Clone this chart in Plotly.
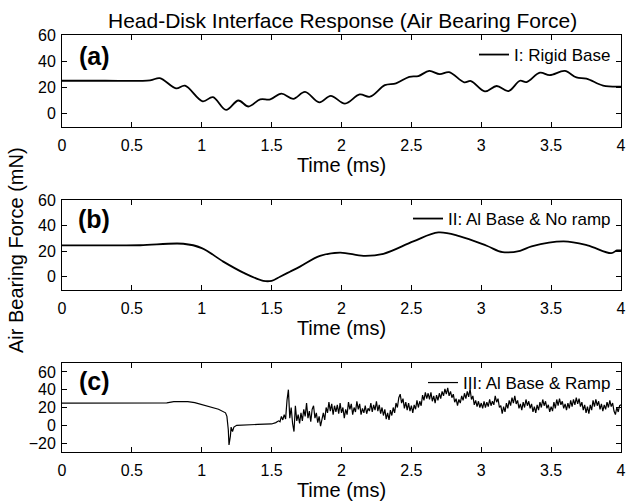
import plotly.graph_objects as go

# ---------------- data ----------------
t_a = [0, 0.3, 0.63, 0.70, 0.816, 0.88, 1.007, 1.08, 1.174, 1.262, 1.334, 1.418, 1.49, 1.57,
       1.655, 1.739, 1.841, 1.923, 2.025, 2.13, 2.204, 2.31, 2.39, 2.485, 2.55, 2.628, 2.703,
       2.77, 2.878, 2.926, 3.026, 3.11, 3.194, 3.277, 3.324, 3.42, 3.49, 3.598, 3.681, 3.753,
       3.872, 4.0]
v_a = [25.0, 25.0, 25.3, 27.0, 19.2, 21.3, 9.3, 12.5, 2.7, 9.9, 5.3, 10.7, 10.7, 15.2,
       11.2, 16.5, 8.5, 13.5, 7.5, 14.5, 12.8, 21.6, 23.0, 28.0, 28.6, 32.5, 30.0,
       31.6, 23.8, 24.8, 16.9, 21.0, 17.1, 25.0, 24.0, 31.2, 29.3, 32.5, 27.5, 26.7,
       21.3, 20.5]

t_b = [0, 0.3, 0.56, 0.868, 1.0, 1.154, 1.297, 1.44, 1.5, 1.56, 1.631, 1.703, 1.846, 1.99,
       2.157, 2.3, 2.514, 2.693, 2.848, 3.039, 3.153, 3.278, 3.36, 3.59, 3.76, 3.93, 3.97, 4.0]
v_b = [24.5, 24.5, 24.6, 25.8, 22.4, 11.8, 3.2, -3.2, -3.2, 0.0, 3.9, 7.9, 16.3, 18.9,
       16.3, 17.9, 27.6, 34.7, 31.6, 24.2, 19.2, 20.3, 23.7, 27.6, 24.5, 18.4, 20.5, 20.5]

t_c = [0, 0.5, 0.55, 0.75, 0.8, 0.9, 0.95, 1.0, 1.06, 1.12, 1.17, 1.18, 1.19, 1.195, 1.205,
       1.21, 1.22, 1.23, 1.25, 1.3, 1.4, 1.5, 1.53, 1.55,
       1.56, 1.57, 1.58, 1.59,
       1.60, 1.61, 1.62, 1.63, 1.64, 1.65, 1.66, 1.67, 1.68, 1.69,
       1.70, 1.71, 1.72, 1.73, 1.74, 1.75, 1.76, 1.77, 1.78, 1.79,
       1.80, 1.81, 1.82, 1.83, 1.84, 1.85, 1.86, 1.87, 1.88, 1.89,
       1.90, 1.91, 1.92, 1.93, 1.94, 1.95, 1.96, 1.97, 1.98, 1.99,
       2.00, 2.01, 2.02, 2.03, 2.04, 2.05, 2.06, 2.07, 2.08, 2.09,
       2.10, 2.11, 2.12, 2.13, 2.14, 2.15, 2.16, 2.17, 2.18, 2.19,
       2.20, 2.21, 2.22, 2.23, 2.24, 2.25, 2.26, 2.27, 2.28, 2.29,
       2.30, 2.31, 2.32, 2.33, 2.34, 2.35, 2.36, 2.37, 2.38, 2.39,
       2.40, 2.41, 2.42, 2.43, 2.44, 2.45, 2.46, 2.47, 2.48, 2.49,
       2.50, 2.51, 2.52, 2.53, 2.54, 2.55, 2.56, 2.57, 2.58, 2.59,
       2.60, 2.61, 2.62, 2.63, 2.64, 2.65, 2.66, 2.67, 2.68, 2.69,
       2.70, 2.71, 2.72, 2.73, 2.74, 2.75, 2.76, 2.77, 2.78, 2.79,
       2.80, 2.81, 2.82, 2.83, 2.84, 2.85, 2.86, 2.87, 2.88, 2.89,
       2.90, 2.91, 2.92, 2.93, 2.94, 2.95, 2.96, 2.97, 2.98, 2.99,
       3.00, 3.01, 3.02, 3.03, 3.04, 3.05, 3.06, 3.07, 3.08, 3.09,
       3.10, 3.11, 3.12, 3.13, 3.14, 3.15, 3.16, 3.17, 3.18, 3.19,
       3.20, 3.21, 3.22, 3.23, 3.24, 3.25, 3.26, 3.27, 3.28, 3.29,
       3.30, 3.31, 3.32, 3.33, 3.34, 3.35, 3.36, 3.37, 3.38, 3.39,
       3.40, 3.41, 3.42, 3.43, 3.44, 3.45, 3.46, 3.47, 3.48, 3.49,
       3.50, 3.51, 3.52, 3.53, 3.54, 3.55, 3.56, 3.57, 3.58, 3.59,
       3.60, 3.61, 3.62, 3.63, 3.64, 3.65, 3.66, 3.67, 3.68, 3.69,
       3.70, 3.71, 3.72, 3.73, 3.74, 3.75, 3.76, 3.77, 3.78, 3.79,
       3.80, 3.81, 3.82, 3.83, 3.84, 3.85, 3.86, 3.87, 3.88, 3.89,
       3.90, 3.91, 3.92, 3.93, 3.94, 3.95, 3.96, 3.97, 3.98, 3.99,
       4.00]
v_c = [25, 25, 24.6, 25.2, 26.5, 26.5, 25.5, 23.5, 21, 18, 14, 10, -5, -22, -12,
       -2, -7, -2, 0, 0.5, 1, 1.5, 3, 5,
       4, 10, 6, 12,
       7, 28, 40, 8, 20, 2, -7, 22, 5, 12,
       2, 14, 5, 18, 10, 25, 8, 16, 4, 18,
       22, 8, 14, 3, 10, -1, 8, 14, 6, 20,
       14, 26, 16, 24, 12, 22, 15, 23, 13, 25,
       14, 20, 8, 18, 12, 26, 18, 24, 12, 20,
       15, 27, 18, 24, 12, 19, 14, 22, 13, 19,
       16, 25, 15, 23, 17, 27, 16, 23, 13, 20,
       11, 18, 7, 14, 6, 17, 11, 20, 14, 25,
       20, 31, 35, 25, 30, 19, 26, 17, 25, 16,
       22, 14, 23, 18, 28, 20, 27, 22, 34, 28,
       37, 30, 36, 29, 37, 27, 33, 25, 34, 28,
       36, 30, 38, 33, 41, 35, 42, 33, 38, 31,
       35, 26, 30, 22, 29, 25, 33, 28, 36, 30,
       38, 32, 41, 29, 33, 23, 28, 21, 27, 20,
       25, 19, 27, 20, 26, 21, 29, 22, 27, 23,
       33, 26, 30, 20, 22, 13, 21, 15, 25, 19,
       28, 22, 31, 25, 33, 24, 28, 19, 24, 17,
       26, 20, 29, 22, 27, 19, 24, 15, 21, 14,
       23, 17, 26, 20, 29, 22, 27, 19, 23, 15,
       21, 16, 26, 19, 29, 22, 30, 23, 27, 19,
       24, 17, 25, 19, 28, 21, 29, 23, 31, 24,
       30, 21, 26, 17, 23, 14, 21, 13, 23, 17,
       28, 21, 29, 22, 27, 18, 24, 16, 23, 18,
       26, 20, 28, 21, 25, 16, 12, 20, 15, 22,
       23]

names = ["I: Rigid Base", "II: Al Base & No ramp", "III: Al Base & Ramp"]
panel_labels = ["(a)", "(b)", "(c)"]
x_tickvals = [0, 0.5, 1, 1.5, 2, 2.5, 3, 3.5, 4]
x_ticktext = ["0", "0.5", "1", "1.5", "2", "2.5", "3", "3.5", "4"]
y_ticks_ab = [0, 20, 40, 60]
y_ticks_c = [-20, 0, 20, 40, 60]
title_text = "Head-Disk Interface Response (Air Bearing Force)"
x_title = "Time (ms)"
y_title = "Air Bearing Force (mN)"

# ---------------- figure ----------------
W, H = 629, 503
FONT = "Liberation Sans, Arial, sans-serif"

def py(px):
    return 1 - px / H

def pxx(px):
    return px / W

xdom = [pxx(62), pxx(621)]
ydoms = [[py(126.5), py(35)], [py(289.5), py(200)], [py(452), py(363)]]
yranges = [[-10, 60], [-10, 60], [-30, 70]]
yticks = [y_ticks_ab, y_ticks_ab, y_ticks_c]

fig = go.Figure()
series = [(t_a, v_a, 1.8), (t_b, v_b, 1.8), (t_c, v_c, 1.2)]
for i, (tt, vv, lw) in enumerate(series):
    sfx = "" if i == 0 else str(i + 1)
    fig.add_trace(go.Scatter(
        x=tt, y=vv, mode="lines", name=names[i],
        line=dict(color="black", width=lw, shape="spline" if i < 2 else "linear"),
        xaxis="x" + sfx, yaxis="y" + sfx,
        legend="legend" + sfx, showlegend=True,
    ))

axis_common = dict(
    showline=True, linecolor="black", linewidth=1, mirror="ticks",
    ticks="inside", ticklen=5, tickcolor="black", tickwidth=1,
    showgrid=False, zeroline=False, automargin=False,
    tickfont=dict(family=FONT, size=16, color="black"),
)

layout = dict(
    width=W, height=H, margin=dict(l=0, r=0, t=0, b=0),
    paper_bgcolor="white", plot_bgcolor="white",
    font=dict(family=FONT, color="black"),
    showlegend=True,
)
legend_y = [55, 219, 383]
for i in range(3):
    sfx = "" if i == 0 else str(i + 1)
    layout["xaxis" + sfx] = dict(
        axis_common, domain=xdom, range=[0, 4], anchor="y" + sfx,
        tickvals=x_tickvals, ticktext=x_ticktext, ticklabelstandoff=4,
        title=dict(text=x_title, font=dict(family=FONT, size=20, color="black"), standoff=4),
    )
    layout["yaxis" + sfx] = dict(
        axis_common, domain=ydoms[i], range=yranges[i], anchor="x" + sfx,
        tickvals=yticks[i], ticklabelstandoff=2,
    )
    layout["legend" + sfx] = dict(
        x=pxx(616), y=py(legend_y[i]), xanchor="right", yanchor="middle",
        bgcolor="rgba(0,0,0,0)", borderwidth=0,
        font=dict(family=FONT, size=17, color="black"),
        itemwidth=30, tracegroupgap=0,
    )

annotations = [
    dict(text=title_text, x=pxx(342), y=py(21), xref="paper", yref="paper",
         xanchor="center", yanchor="middle", showarrow=False,
         font=dict(family=FONT, size=21, color="black")),
    dict(text=y_title, x=pxx(16), y=py(250), xref="paper", yref="paper",
         xanchor="center", yanchor="middle", textangle=-90, showarrow=False,
         font=dict(family=FONT, size=20, color="black")),
]
label_y = [56, 219, 381]
for i in range(3):
    annotations.append(dict(
        text="<b>" + panel_labels[i] + "</b>", x=pxx(94), y=py(label_y[i]),
        xref="paper", yref="paper", xanchor="center", yanchor="middle",
        showarrow=False, font=dict(family=FONT, size=25, color="black")))
layout["annotations"] = annotations

fig.update_layout(layout)
fig.write_html("out.html")
